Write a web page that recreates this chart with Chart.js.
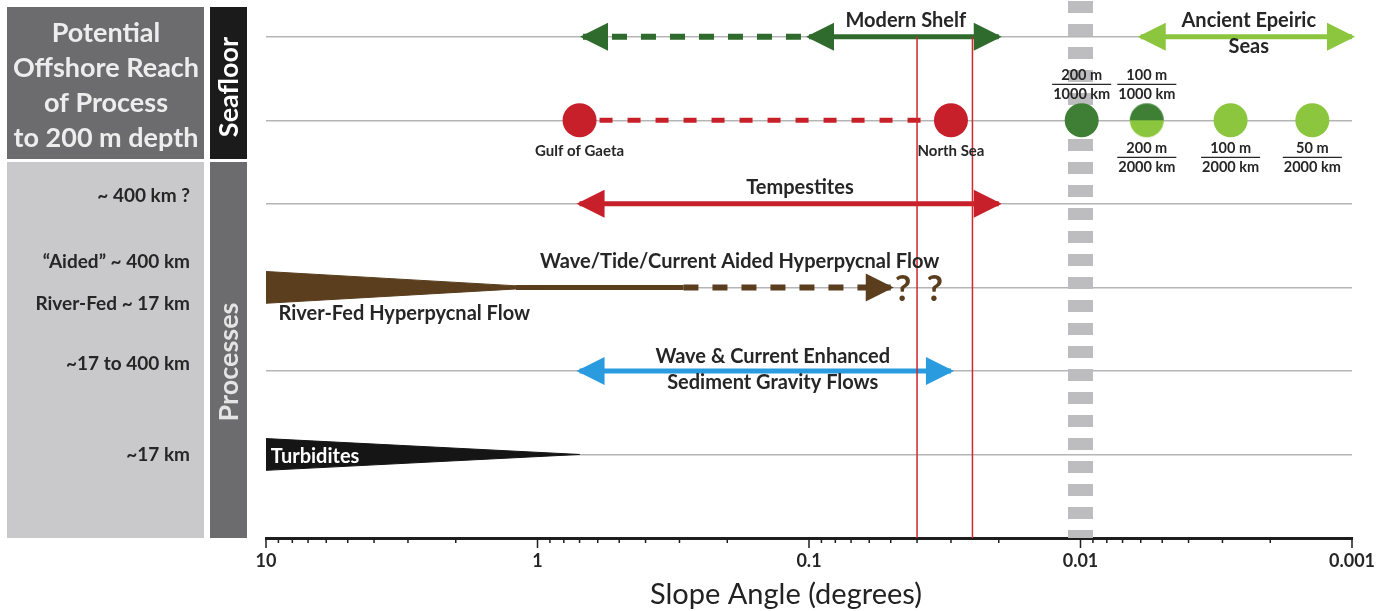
<!DOCTYPE html>
<html lang="en">
<head>
<meta charset="UTF-8">
<title>Slope angle vs. offshore reach of shelf processes</title>
<script src="https://cdn.jsdelivr.net/npm/chart.js"></script>
<style>
  html, body { margin: 0; padding: 0; background: #fff; }
  canvas { display: block; }
</style>
</head>
<body>
<canvas id="slopeChart" width="1399" height="611"></canvas>
<script>
// ---- values (slope angles in degrees) ----
const axisLabels = [10, 1, 0.1, 0.01, 0.001];
const rows = { shelf: 6, examples: 5, tempestites: 4, hyperpycnal: 3, gravityFlows: 2, turbidites: 1 };

const modernShelf = [0.1, 0.02];
const modernShelfDashed = [0.68, 0.1];
const epeiricSeas = [0.006, 0.001];
const shelfExamples = ['Gulf of Gaeta', 'North Sea'];
const shelfExampleSlopes = [0.7, 0.03];
const rampSlopes = [0.0099, 0.0057, 0.0028, 0.0014];
const rampAbove = [['200 m', '1000 km'], ['100 m', '1000 km'], null, null];
const rampBelow = [null, ['200 m', '2000 km'], ['100 m', '2000 km'], ['50 m', '2000 km']];
const tempestites = [0.7, 0.02];
const riverFedWedge = [10, 0.95];
const aidedSolid = [1.2, 0.29];
const aidedDashed = [0.29, 0.05];
const unknownReach = [0.045, 0.0344];
const gravityFlows = [0.7, 0.03];
const turbiditeWedge = [10, 0.7];
const shelfBreakSlopes = [0.04, 0.025];
const referenceSlope = 0.01;

const reachLabels = [
  { text: '~ 400 km ?', py: 196 },
  { text: '\u201CAided\u201D ~ 400 km', py: 262 },
  { text: 'River-Fed ~ 17 km', py: 304 },
  { text: '~17 to 400 km', py: 364 },
  { text: '~17 km', py: 455 }
];

const notes = [
  { text: 'Modern Shelf', x: 0.044, y: 6.2 },
  { text: 'Ancient Epeiric', x: 0.0024, y: 6.2 },
  { text: 'Seas', x: 0.0024, y: 5.88 },
  { text: 'Tempestites', x: 0.108, y: 4.2 },
  { text: 'Wave/Tide/Current Aided Hyperpycnal Flow', x: 0.18, y: 3.31 },
  { text: 'River-Fed Hyperpycnal Flow', x: 9.0, y: 2.69, align: 'left' },
  { text: 'Wave & Current Enhanced', x: 0.136, y: 2.17 },
  { text: 'Sediment Gravity Flows', x: 0.136, y: 1.86 },
  { text: 'Turbidites', x: 9.6, y: 0.98, align: 'left', color: '#ffffff' }
];

// ---- styles ----
const FONT = 'Lato, "Open Sans", sans-serif';
const C = {
  darkGreen: '#2e6b2c', lightGreen: '#8cc63f', circleGreen: '#3e7f35',
  red: '#c8202b', blue: '#2b9be0', brown: '#5b3e1e', black: '#151515',
  rule: '#d0262c', column: '#bdbdbf', grid: '#b5b5b5', text: '#262626'
};
const WEDGE = 0.19;

function seg(xs, row, color, extra) {
  return Object.assign({
    data: xs.map(x => ({ x, y: row })),
    borderColor: color, backgroundColor: color,
    borderWidth: 5, pointRadius: 0, pointHoverRadius: 0,
    borderCapStyle: 'butt', fill: false, tension: 0
  }, extra || {});
}

function wedge(xs, row, color, order) {
  return [
    seg(xs, row, color, { data: [{ x: xs[0], y: row + WEDGE }, { x: xs[1], y: row }], borderWidth: 1, order }),
    seg(xs, row, color, { data: [{ x: xs[0], y: row - WEDGE }, { x: xs[1], y: row }], borderWidth: 1, fill: '-1', order })
  ];
}

function halfDisc(top, bottom, r) {
  const c = document.createElement('canvas');
  c.width = c.height = 2 * r + 2;
  const g = c.getContext('2d');
  const m = r + 1;
  g.fillStyle = bottom; g.beginPath(); g.arc(m, m, r, 0, Math.PI); g.fill();
  g.fillStyle = top; g.beginPath(); g.arc(m, m, r, Math.PI, 2 * Math.PI); g.fill();
  return c;
}
const halfGreen = halfDisc(C.circleGreen, C.lightGreen, 17);

const datasets = [
  // thick dashed reference column at 0.01 degrees
  seg([referenceSlope, referenceSlope], 0, C.column, {
    data: [{ x: referenceSlope, y: 0 }, { x: referenceSlope, y: 6.44 }],
    borderWidth: 25, borderDash: [12, 11], borderDashOffset: 4, order: 20
  }),
  // seafloor: modern shelf and epeiric seas
  seg(modernShelfDashed, rows.shelf, C.darkGreen, { borderDash: [15, 14], borderWidth: 6, heads: 'start', order: 10 }),
  seg(modernShelf, rows.shelf, C.darkGreen, { heads: 'both', order: 9 }),
  seg(epeiricSeas, rows.shelf, C.lightGreen, { heads: 'both', order: 9 }),
  // seafloor: example shelves
  seg(shelfExampleSlopes, rows.examples, C.red, { borderDash: [13, 15], borderDashOffset: -20, order: 10 }),
  seg(shelfExampleSlopes, rows.examples, C.red, { showLine: false, pointRadius: 17, pointHoverRadius: 17, pointBorderWidth: 0, order: 8 }),
  seg(rampSlopes, rows.examples, C.lightGreen, {
    showLine: false, pointRadius: 17, pointHoverRadius: 17, pointBorderWidth: 0,
    pointBackgroundColor: [C.circleGreen, C.lightGreen, C.lightGreen, C.lightGreen],
    pointStyle: ctx => ctx.dataIndex === 1 ? halfGreen : 'circle', order: 8
  }),
  // processes
  seg(tempestites, rows.tempestites, C.red, { heads: 'both', order: 9 }),
  ...wedge(riverFedWedge, rows.hyperpycnal, C.brown, 9),
  seg(aidedSolid, rows.hyperpycnal, C.brown, { order: 9 }),
  seg(aidedDashed, rows.hyperpycnal, C.brown, { borderDash: [15, 14], borderWidth: 6, heads: 'end', order: 9 }),
  seg(gravityFlows, rows.gravityFlows, C.blue, { heads: 'both', order: 9 }),
  ...wedge(turbiditeWedge, rows.turbidites, C.black, 9),
  // shelf-break slope rules
  ...shelfBreakSlopes.map(s => seg([s, s], 0, C.rule, {
    data: [{ x: s, y: 0 }, { x: s, y: rows.shelf }], borderWidth: 1.5, order: 1
  }))
];

// arrowheads at the ends of a dataset's line
const arrowHeads = {
  id: 'arrowHeads',
  afterDatasetDraw(chart, args) {
    const ds = chart.data.datasets[args.index];
    if (!ds.heads) return;
    const pts = args.meta.data;
    const ctx = chart.ctx;
    const len = 25, half = 14;
    const head = (tip, from) => {
      const dx = tip.x - from.x, dy = tip.y - from.y;
      const d = Math.hypot(dx, dy) || 1;
      const ux = dx / d, uy = dy / d;
      const bx = tip.x - ux * len, by = tip.y - uy * len;
      ctx.beginPath();
      ctx.moveTo(tip.x + ux * 3, tip.y + uy * 3);
      ctx.lineTo(bx - uy * half, by + ux * half);
      ctx.lineTo(bx + uy * half, by - ux * half);
      ctx.closePath();
      ctx.fill();
    };
    ctx.save();
    ctx.fillStyle = ds.borderColor;
    const n = pts.length - 1;
    if (ds.heads === 'start' || ds.heads === 'both') head(pts[0], pts[1]);
    if (ds.heads === 'end' || ds.heads === 'both') head(pts[n], pts[n - 1]);
    ctx.restore();
  }
};

// left-hand panels: header, reach column and the two vertical bars
const sidePanel = {
  id: 'sidePanel',
  beforeDraw(chart) {
    const ctx = chart.ctx;
    ctx.save();
    ctx.fillStyle = '#6c6c6e'; ctx.fillRect(7, 7, 197, 152);
    ctx.fillStyle = '#c9c9cb'; ctx.fillRect(7, 162, 197, 376);
    ctx.fillStyle = '#1b1b1b'; ctx.fillRect(210, 7, 37, 152);
    ctx.fillStyle = '#6c6c6e'; ctx.fillRect(210, 162, 37, 376);

    ctx.fillStyle = '#ededed';
    ctx.font = 'bold 27px ' + FONT;
    ctx.textAlign = 'center';
    ctx.textBaseline = 'middle';
    ['Potential', 'Offshore Reach', 'of Process', 'to 200 m depth'].forEach((t, i) => {
      ctx.fillText(t, 106, 33 + i * 35);
    });

    ctx.fillStyle = C.text;
    ctx.font = 'bold 19px ' + FONT;
    ctx.textAlign = 'right';
    reachLabels.forEach(l => ctx.fillText(l.text, 190, l.py));

    ctx.font = 'bold 27px ' + FONT;
    ctx.textAlign = 'center';
    ctx.save();
    ctx.translate(229, 87); ctx.rotate(-Math.PI / 2);
    ctx.fillStyle = '#ffffff'; ctx.fillText('Seafloor', 0, 0);
    ctx.restore();
    ctx.translate(229, 362); ctx.rotate(-Math.PI / 2);
    ctx.fillStyle = '#e4e4e4'; ctx.fillText('Processes', 0, 0);
    ctx.restore();
  }
};

// text labels, site names and slope ratios placed in data space
const annotations = {
  id: 'annotations',
  afterDatasetsDraw(chart) {
    const { ctx, scales: { x, y } } = chart;
    ctx.save();
    ctx.textBaseline = 'middle';
    ctx.font = 'bold 20px ' + FONT;
    notes.forEach(n => {
      ctx.fillStyle = n.color || C.text;
      ctx.textAlign = n.align || 'center';
      ctx.fillText(n.text, x.getPixelForValue(n.x), y.getPixelForValue(n.y));
    });

    ctx.fillStyle = C.brown;
    ctx.font = 'bold 36px ' + FONT;
    ctx.textAlign = 'center';
    unknownReach.forEach(v => ctx.fillText('?', x.getPixelForValue(v), y.getPixelForValue(rows.hyperpycnal) + 2));

    ctx.fillStyle = C.text;
    ctx.font = 'bold 15px ' + FONT;
    const ey = y.getPixelForValue(rows.examples);
    shelfExamples.forEach((name, i) => ctx.fillText(name, x.getPixelForValue(shelfExampleSlopes[i]), ey + 31));

    ctx.font = 'bold 14.5px ' + FONT;
    ctx.strokeStyle = C.text;
    ctx.lineWidth = 1.3;
    const fraction = (pair, px, barY) => {
      if (!pair) return;
      const w = Math.max(ctx.measureText(pair[0]).width, ctx.measureText(pair[1]).width) + 2;
      ctx.fillText(pair[0], px, barY - 9);
      ctx.fillText(pair[1], px, barY + 10);
      ctx.beginPath(); ctx.moveTo(px - w / 2, barY); ctx.lineTo(px + w / 2, barY); ctx.stroke();
    };
    rampSlopes.forEach((s, i) => {
      const px = x.getPixelForValue(s);
      fraction(rampAbove[i], px, ey - 36);
      fraction(rampBelow[i], px, ey + 37);
    });

    // log-axis tick marks below the baseline
    ctx.strokeStyle = '#1e1e1e';
    ctx.lineWidth = 1.5;
    x.ticks.forEach(t => {
      const px = x.getPixelForValue(t.value);
      const major = axisLabels.includes(t.value);
      ctx.beginPath();
      ctx.moveTo(px, x.top);
      ctx.lineTo(px, x.top + (major ? 10 : 5));
      ctx.stroke();
    });

    // axis title, set slightly left of the axis centre
    ctx.fillStyle = '#222';
    ctx.font = '29px ' + FONT;
    ctx.textAlign = 'center';
    ctx.fillText('Slope Angle (degrees)', 786, 595);
    ctx.restore();
  }
};

new Chart(document.getElementById('slopeChart'), {
  type: 'line',
  data: { datasets },
  options: {
    responsive: false,
    animation: false,
    layout: { autoPadding: false, padding: { left: 266, right: 47, top: 0, bottom: 0 } },
    plugins: { legend: { display: false }, tooltip: { enabled: false } },
    scales: {
      x: {
        type: 'logarithmic', min: 0.001, max: 10, reverse: true,
        afterBuildTicks: s => {
          const ticks = [];
          for (let e = -3; e <= 0; e++) {
            for (let k = 1; k <= 9; k++) ticks.push({ value: parseFloat((k * Math.pow(10, e)).toPrecision(2)) });
          }
          ticks.push({ value: 10 });
          s.ticks = ticks;
        },
        afterFit: s => { s.height = 73; },
        grid: { display: false, drawTicks: false },
        border: { display: true, color: '#1e1e1e', width: 3 },
        ticks: {
          autoSkip: false, maxRotation: 0, padding: 12, color: C.text,
          font: { family: FONT, size: 18, weight: 'bold' },
          callback: v => axisLabels.includes(v) ? String(v) : ''
        },
        title: { display: false }
      },
      y: {
        type: 'linear', min: 0, max: 6.44,
        afterBuildTicks: s => { s.ticks = Object.values(rows).map(v => ({ value: v })); },
        afterFit: s => { s.width = 0; },
        ticks: { display: false },
        grid: { color: C.grid, lineWidth: 1.5, drawTicks: false },
        border: { display: false }
      }
    }
  },
  plugins: [sidePanel, arrowHeads, annotations]
});
</script>
</body>
</html>
